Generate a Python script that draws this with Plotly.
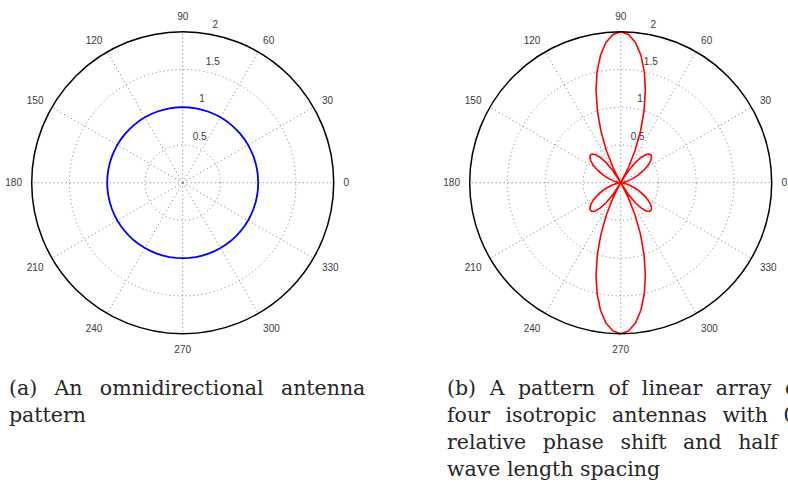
import plotly.graph_objects as go

# ---------------- data ----------------
angle_ticks = [0, 30, 60, 90, 120, 150, 180, 210, 240, 270, 300, 330]
angle_labels = ["0", "30", "60", "90", "120", "150", "180", "210", "240", "270", "300", "330"]
radial_ticks = [0.5, 1, 1.5, 2]
radial_labels = ["0.5", "1", "1.5", "2"]

# (a) omnidirectional pattern: radius 1 in every direction (read every 5 degrees)
omni_theta = list(range(0, 361, 5))
omni_r = [
    1, 1, 1, 1, 1, 1, 1, 1, 1, 1, 1, 1, 1, 1, 1, 1, 1, 1, 1, 1,
    1, 1, 1, 1, 1, 1, 1, 1, 1, 1, 1, 1, 1, 1, 1, 1, 1, 1, 1, 1,
    1, 1, 1, 1, 1, 1, 1, 1, 1, 1, 1, 1, 1, 1, 1, 1, 1, 1, 1, 1,
    1, 1, 1, 1, 1, 1, 1, 1, 1, 1, 1, 1, 1,
]

# (b) linear array of four isotropic antennas (values read every 3 degrees)
array_theta = list(range(0, 361, 3))
array_r = [
    0.000, 0.004, 0.017, 0.039, 0.068, 0.106, 0.152, 0.204, 0.261, 0.321,
    0.381, 0.438, 0.488, 0.525, 0.543, 0.538, 0.503, 0.435, 0.328, 0.183,
    0.000, 0.218, 0.464, 0.730, 0.998, 1.263, 1.504, 1.710, 1.868, 1.966,
    2.000,
    1.966, 1.868, 1.710, 1.504, 1.263, 0.998, 0.730, 0.464, 0.218, 0.000,
    0.183, 0.328, 0.435, 0.503, 0.538, 0.543, 0.525, 0.488, 0.438, 0.381,
    0.321, 0.261, 0.204, 0.152, 0.106, 0.068, 0.039, 0.017, 0.004, 0.000,
    0.004, 0.017, 0.039, 0.068, 0.106, 0.152, 0.204, 0.261, 0.321, 0.381,
    0.438, 0.488, 0.525, 0.543, 0.538, 0.503, 0.435, 0.328, 0.183, 0.000,
    0.218, 0.464, 0.730, 0.998, 1.263, 1.504, 1.710, 1.868, 1.966, 2.000,
    1.966, 1.868, 1.710, 1.504, 1.263, 0.998, 0.730, 0.464, 0.218, 0.000,
    0.183, 0.328, 0.435, 0.503, 0.538, 0.543, 0.525, 0.488, 0.438, 0.381,
    0.321, 0.261, 0.204, 0.152, 0.106, 0.068, 0.039, 0.017, 0.004, 0.000,
]

caption_a = ["(a) An omnidirectional antenna", "pattern"]
caption_b = ["(b) A pattern of linear array of", "four isotropic antennas with 0",
             "relative phase shift and half", "wave length spacing"]

# ---------------- figure ----------------
W, H = 788, 483
fig = go.Figure()

LABEL_ANGLE = 80
TXT = "#3a3a3a"
GRID = "#7a7a7a"

fig.add_trace(go.Scatterpolar(r=omni_r, theta=omni_theta, mode="lines",
                              line=dict(color="#0000ff", width=1.8),
                              subplot="polar", showlegend=False, hoverinfo="skip"))
fig.add_trace(go.Scatterpolar(r=array_r, theta=array_theta, mode="lines",
                              line=dict(color="#ff0000", width=1.6),
                              subplot="polar2", showlegend=False, hoverinfo="skip"))

for sp in ["polar", "polar2"]:
    fig.add_trace(go.Scatterpolar(r=radial_ticks, theta=[LABEL_ANGLE] * len(radial_ticks),
                                  mode="markers+text", text=radial_labels, textposition="top right",
                                  marker=dict(size=4, opacity=0),
                                  textfont=dict(family="Liberation Sans", size=10, color=TXT),
                                  cliponaxis=False, subplot=sp, showlegend=False, hoverinfo="skip"))

def polar_layout(cx, cy, rad):
    return dict(
        domain=dict(x=[(cx - rad) / W, (cx + rad) / W],
                    y=[(H - cy - rad) / H, (H - cy + rad) / H]),
        bgcolor="white",
        radialaxis=dict(range=[0, 2], tickvals=radial_ticks, showticklabels=False,
                        ticks="", showline=False, showgrid=True, gridcolor=GRID,
                        griddash="1px,3px", gridwidth=1),
        angularaxis=dict(tickvals=angle_ticks, ticktext=angle_labels,
                         direction="counterclockwise", rotation=0,
                         showline=True, linecolor="black", linewidth=1.5,
                         ticks="outside", ticklen=7, tickcolor="rgba(0,0,0,0)",
                         showgrid=True, gridcolor=GRID, griddash="1px,3px", gridwidth=1,
                         tickfont=dict(family="Liberation Sans", size=10, color=TXT)),
    )

fig.update_layout(
    width=W, height=H,
    margin=dict(l=0, r=0, t=0, b=0),
    paper_bgcolor="white",
    polar=polar_layout(182.7, 182.7, 151),
    polar2=polar_layout(620.7, 182.7, 151),
    showlegend=False,
)

CAP_FONT = dict(family="DejaVu Serif", size=20.5, color="#262626")
baselines = [394.5, 421.8, 449.0, 476.3]
spacing_a = [10.8, 0]
spacing_b = [7.0, 9.0, 10.0, 0]

def cap(line, extra):
    if extra:
        return '<span style="word-spacing:%.1fpx">%s</span>' % (extra, line)
    return line

for i, line in enumerate(caption_a):
    fig.add_annotation(x=7 / W, y=1 - (baselines[i] - 7) / H, xref="paper", yref="paper",
                       text=cap(line, spacing_a[i]), showarrow=False, xanchor="left",
                       yanchor="middle", font=CAP_FONT)
for i, line in enumerate(caption_b):
    fig.add_annotation(x=445 / W, y=1 - (baselines[i] - 7) / H, xref="paper", yref="paper",
                       text=cap(line, spacing_b[i]), showarrow=False, xanchor="left",
                       yanchor="middle", font=CAP_FONT)

fig.write_html("out.html")
